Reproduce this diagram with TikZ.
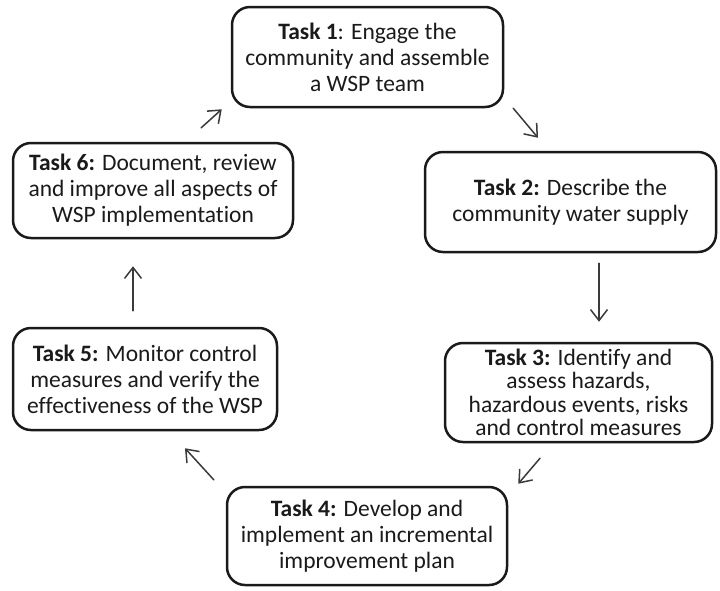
\documentclass[tikz,border=0pt]{standalone}
\usepackage{fontspec}
\setmainfont{Carlito}[Ligatures=NoCommon]
\usetikzlibrary{arrows.meta,calc}
\definecolor{boxc}{HTML}{1A1A1A}
\definecolor{txtc}{HTML}{1A1A1A}
\definecolor{arrc}{HTML}{3A3A3A}
\begin{document}
\begin{tikzpicture}[x=1pt,y=-1pt,
  task/.style={draw=boxc, line width=2.5pt, rounded corners=18pt, align=center,
    inner sep=0pt, text=txtc, font=\fontsize{23.5}{26}\selectfont},
  flow/.style={draw=arrc, line width=1.5pt, line cap=round,
    -{Straight Barb[length=11pt,width=17pt]}}]
\useasboundingbox (0,0) rectangle (720,590);
\node[task, minimum width=271pt, minimum height=100pt] (n1) at (367.5,57)
  {\textbf{Task 1}: Engage the\\community and assemble\\a WSP team};
\node[task, minimum width=291pt, minimum height=100pt] (n2) at (570.5,202)
  {\textbf{Task 2:} Describe the\\community water supply};
\node[task, minimum width=267pt, minimum height=99pt,
  font=\fontsize{23.5}{23.5}\selectfont] (n3) at (578.5,392.5)
  {\textbf{Task 3:} Identify and\\assess hazards,\\hazardous events, risks\\and control measures};
\node[task, minimum width=280pt, minimum height=98pt] (n4) at (367,536)
  {\textbf{Task 4:} Develop and\\implement an incremental\\improvement plan};
\node[task, minimum width=264pt, minimum height=102pt] (n5) at (145,379)
  {\textbf{Task 5:} Monitor control\\measures and verify the\\effectiveness of the WSP};
\node[task, minimum width=280pt, minimum height=95pt] (n6) at (153,190.5)
  {\textbf{Task 6:} Document, review\\and improve all aspects of\\WSP implementation};
\draw[flow] ($(n6.north east)+(-93,-14)$) -- ($(n1.south west)+(-9,1)$);
\draw[flow] ($(n1.south east)+(9,0)$) -- ($(n2.north)+(-32.5,-13)$);
\draw[flow] ($(n2.south)+(28.5,10)$) -- ($(n3.north)+(20.5,-20)$);
\draw[flow] ($(n3.south)+(-38.5,15)$) -- ($(n4.north east)+(10,-2)$);
\draw[flow] ($(n4.north west)+(-12,-6)$) -- ($(n5.south)+(40,17)$);
\draw[flow] ($(n5.north)+(-12,-16)$) -- ($(n6.south)+(-20,27)$);
\end{tikzpicture}
\end{document}
